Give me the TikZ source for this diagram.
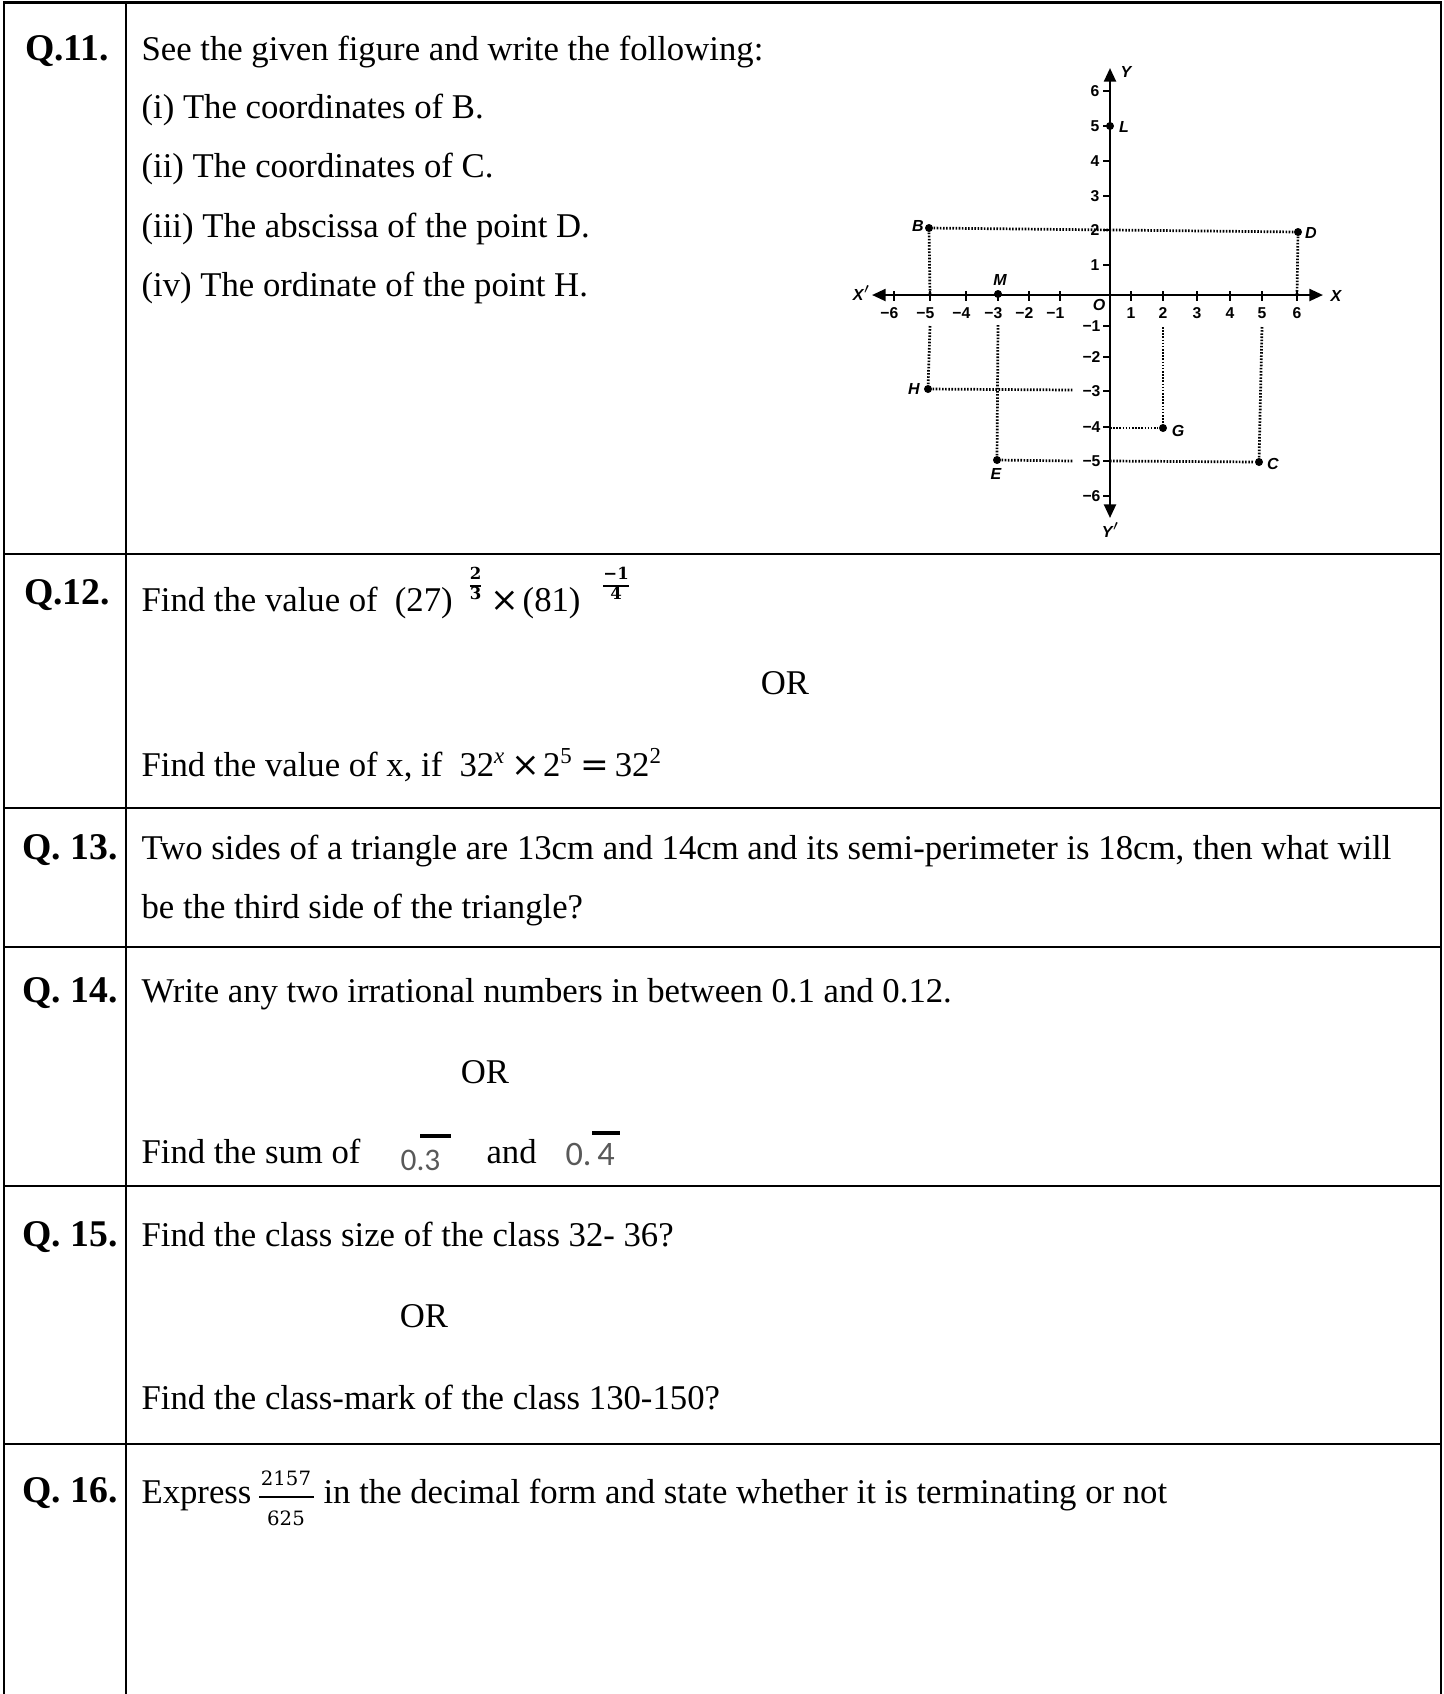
\documentclass[tikz,border=0pt]{standalone}
\usepackage{fontspec}
\setmainfont{Liberation Serif}
\newfontfamily\gf{Liberation Sans}
\newfontfamily\mf{DejaVu Serif}
\newfontfamily\cf{Carlito}
\usetikzlibrary{arrows.meta}
\newcommand\upfrac[3]{\raisebox{#3}{\mf\bfseries\fontsize{5.8}{5.9}\selectfont\setlength\arrayrulewidth{0.7pt}\begin{tabular}[b]{@{}c@{}}#1\\\hline #2\end{tabular}}}
\newcommand\supx[1]{\raisebox{4.5pt}{\fontsize{8}{9}\selectfont #1}}
\newcommand\opx[1]{{\mf\fontsize{12}{13}\selectfont #1}}
\begin{document}
\begin{tikzpicture}[x=0.35pt,y=-0.35pt,
  rule/.style={line width=0.95pt},
  qlab/.style={font=\bfseries\fontsize{13.2}{15}\selectfont,anchor=base,inner sep=0pt},
  qtxt/.style={font=\fontsize{12.15}{14}\selectfont,anchor=base west,inner sep=0pt},
  ortxt/.style={font=\fontsize{12.15}{14}\selectfont,anchor=base,inner sep=0pt},
  gnum/.style={font=\gf\bfseries\fontsize{5.5}{6.5}\selectfont,inner sep=0pt},
  glet/.style={font=\gf\bfseries\itshape\fontsize{5.6}{6.5}\selectfont,inner sep=0pt},
  gaxis/.style={line width=0.85pt},
  gtip/.style={{Triangle[length=4.8pt,width=4.2pt]}-{Triangle[length=4.8pt,width=4.2pt]}},
  gdot/.style={line width=0.95pt,dash pattern=on 0.55pt off 0.55pt},
  gpt/.style={circle,fill=black,inner sep=0pt,minimum size=2.8pt},
  gray03/.style={font=\cf\fontsize{11}{13}\selectfont,text=black!65,anchor=base west,inner sep=0pt},
  barline/.style={line width=1.1pt},
  fracnum/.style={font=\mf\fontsize{6.9}{8}\selectfont,anchor=base,inner sep=0pt},
]
\useasboundingbox (0,0) rectangle (1444,1694);
% ---------- table rules ----------
\draw[rule] (4,1694) -- (4,2.5) -- (1441,2.5) -- (1441,1694);
\draw[rule] (126,2.5) -- (126,1694);
\foreach \yy in {554,808,947,1186,1444} \draw[rule] (4,\yy) -- (1441,\yy);
% ---------- Q11 ----------
\node[qlab] (l11) at (67,60) {Q.11.};
\node[qtxt] (t11a) at (141,60) {See the given figure and write the following:};
\node[qtxt] (t11b) at (141,118) {(i) The coordinates of B.};
\node[qtxt] (t11c) at (141,177) {(ii) The coordinates of C.};
\node[qtxt] (t11d) at (141,237) {(iii) The abscissa of the point D.};
\node[qtxt] (t11e) at (141,296) {(iv) The ordinate of the point H.};
% ---------- graph ----------
\coordinate (O) at (1110,295);
\coordinate (xl) at (872,295);
\coordinate (xr) at (1323,295);
\coordinate (yt) at (1110,68);
\coordinate (yb) at (1110,518);
\draw[gaxis,gtip] (xl) -- (xr);
\draw[gaxis,gtip] (yt) -- (yb);
\node[glet] (lX1) at (862,293) {X$'$};
\node[glet] (lX) at (1336,296) {X};
\node[glet] (lY) at (1126,72) {Y};
\node[glet] (lY1) at (1111,530) {Y$'$};
\node[glet] (lO) at (1099,305) {O};
\foreach \v/\xx in {-6/894,-5/930,-4/966,-3/998,-2/1029,-1/1060}{
  \draw[gaxis] (\xx,291) -- (\xx,301);
  \node[gnum] (xt\xx) at (\xx,313) {\llap{\textminus}\number\numexpr-\v\relax};
}
\foreach \v/\xx in {1/1131,2/1163,3/1197,4/1230,5/1262,6/1297}{
  \draw[gaxis] (\xx,291) -- (\xx,301);
  \node[gnum] (xt\xx) at (\xx,313) {\v};
}
\foreach \v/\yy in {6/91,5/126,4/161,3/196,2/230,1/265}{
  \draw[gaxis] (1103,\yy) -- (1110,\yy);
  \node[gnum,anchor=east] (yt\yy) at (1100,\yy) {\v};
}
\foreach \v/\yy in {1/326,2/357,3/391,4/427,5/461,6/496}{
  \draw[gaxis] (1103,\yy) -- (1110,\yy);
  \node[gnum,anchor=east] (yt\yy) at (1101,\yy) {\textminus\v};
}
% points
\node[gpt] (B) at (929,228) {};
\node[gpt] (D) at (1298,232) {};
\node[gpt] (L) at (1110,126) {};
\node[gpt] (M) at (998,294) {};
\node[gpt] (H) at (928,389) {};
\node[gpt] (G) at (1163,428) {};
\node[gpt] (E) at (997,460) {};
\node[gpt] (C) at (1259,462) {};
\node[glet] (lB) at (918,226) {B};
\node[glet] (lD) at (1311,233) {D};
\node[glet] (lL) at (1124,127) {L};
\node[glet] (lM) at (1000,280) {M};
\node[glet] (lH) at (914,389) {H};
\node[glet] (lG) at (1178,431) {G};
\node[glet] (lE) at (996,474) {E};
\node[glet] (lC) at (1273,464) {C};
% dotted guide lines
\coordinate (bx) at (930,295);
\coordinate (hx) at (930,326);
\coordinate (hy) at (1073,390);
\coordinate (ex) at (998,325);
\coordinate (ey) at (1073,461);
\coordinate (cy) at (1110,461);
\coordinate (cx) at (1262,327);
\coordinate (gx) at (1163,327);
\coordinate (gy) at (1110,428);
\coordinate (dx) at (1297,295);
\draw[gdot] (B) -- (D);
\draw[gdot] (B) -- (bx);
\draw[gdot] (hx) -- (H);
\draw[gdot] (H) -- (hy);
\draw[gdot] (ex) -- (E);
\draw[gdot] (E) -- (ey);
\draw[gdot] (cy) -- (C);
\draw[gdot] (cx) -- (C);
\draw[gdot] (gx) -- (G);
\draw[gdot] (gy) -- (G);
\draw[gdot] (D) -- (dx);
% ---------- Q12 ----------
\node[qlab] (l12) at (67,604) {Q.12.};
\node[qtxt] (t12a) at (141,611) {Find the value of\hspace{6pt}(27)\hspace{6pt}\upfrac{2}{3}{4.2pt}\hspace{3.2pt}\opx{×}\hspace{1.2pt}(81)\hspace{8pt}\upfrac{\textminus1}{4}{4.2pt}};
\node[ortxt] (or12) at (785,694) {OR};
\node[qtxt] (t12b) at (141,776) {Find the value of x, if\hspace{6pt}32\supx{\itshape x}\hspace{2.5pt}\opx{×}\hspace{1pt}2\supx{5}\hspace{3pt}\opx{=}\hspace{2pt}32\supx{2}};
% ---------- Q13 ----------
\node[qlab] (l13) at (70,859) {Q. 13.};
\node[qtxt] (t13a) at (141,859) {Two sides of a triangle are 13cm and 14cm and its semi-perimeter is 18cm, then what will};
\node[qtxt] (t13b) at (141,918) {be the third side of the triangle?};
% ---------- Q14 ----------
\node[qlab] (l14) at (70,1002) {Q. 14.};
\node[qtxt] (t14a) at (141,1002) {Write any two irrational numbers in between 0.1 and 0.12.};
\node[ortxt] (or14) at (485,1083) {OR};
\node[qtxt] (t14b) at (141,1163) {Find the sum of};
\node[gray03] (n03) at (400,1170) {0.3};
\draw[barline] (420,1136) -- (451,1136);
\node[qtxt] (and14) at (486,1163) {and};
\node[gray03,font=\cf\fontsize{12}{14}\selectfont] (n04) at (565,1165) {0.\,4};
\draw[barline] (592,1133) -- (620,1133);
% ---------- Q15 ----------
\node[qlab] (l15) at (70,1246) {Q. 15.};
\node[qtxt] (t15a) at (141,1246) {Find the class size of the class 32- 36?};
\node[ortxt] (or15) at (424,1327) {OR};
\node[qtxt] (t15b) at (141,1409) {Find the class-mark of the class 130-150?};
% ---------- Q16 ----------
\node[qlab] (l16) at (70,1502) {Q. 16.};
\node[qtxt] (t16a) at (141,1503) {Express};
\node[fracnum] (f16n) at (286,1485) {2157};
\draw[line width=1pt] (259,1497) -- (314,1497);
\node[fracnum] (f16d) at (286,1525) {625};
\node[qtxt] (t16b) at (323,1503) {in the decimal form and state whether it is terminating or not};
\end{tikzpicture}
\end{document}
